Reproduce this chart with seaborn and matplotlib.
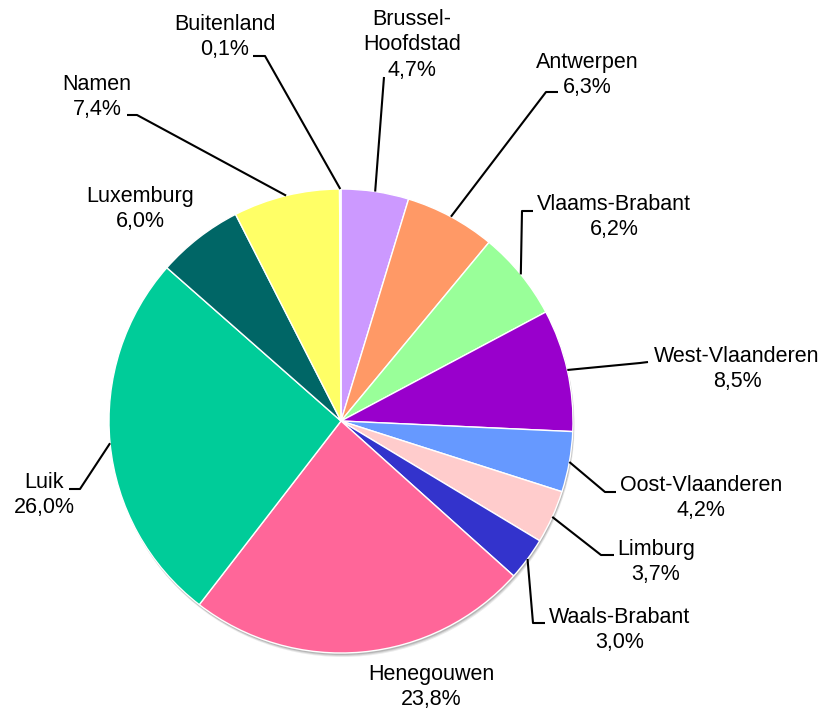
import matplotlib
matplotlib.use("Agg")
import matplotlib.pyplot as plt
import seaborn as sns
import numpy as np
from matplotlib.patches import Circle

regions = ["Brussel-\nHoofdstad", "Antwerpen", "Vlaams-Brabant", "West-Vlaanderen",
           "Oost-Vlaanderen", "Limburg", "Waals-Brabant", "Henegouwen", "Luik",
           "Luxemburg", "Namen", "Buitenland"]
shares = [4.7, 6.3, 6.2, 8.5, 4.2, 3.7, 3.0, 23.8, 26.0, 6.0, 7.4, 0.1]
colors = ["#CC99FF", "#FF9966", "#99FF99", "#9900CC", "#6699FF", "#FFCCCC",
          "#3333CC", "#FF6699", "#00CC99", "#006666", "#FFFF66", "#CCFFFF"]

sns.set_style("white")
plt.rcParams['font.family'] = ['Liberation Sans', 'DejaVu Sans']

W, H = 824, 711
fig = plt.figure(figsize=(W / 100, H / 100), dpi=100)
ax = fig.add_axes([0, 0, 1, 1])

cx, cy, R = 341, H - 421, 232

# soft shadow
for off, a in [(4, 0.08), (3, 0.10), (2, 0.14)]:
    ax.add_patch(Circle((cx + off * 0.4, cy - off), R, color="black", alpha=a, lw=0, zorder=0))

palette = sns.color_palette(colors)
wedges, _ = ax.pie(shares, colors=palette, startangle=90, counterclock=False,
                   center=(cx, cy), radius=R,
                   wedgeprops=dict(edgecolor="white", linewidth=1))
for w in wedges:
    w.set_zorder(2)

ax.set_xlim(0, W)
ax.set_ylim(0, H)
ax.set_aspect("equal")
ax.axis("off")

# label centres (pixels, y from top)
label_pos = [(412, 45), (587, 75), (614, 217), (737, 369), (701, 498), (656, 562),
             (620, 630), (431, 687), (44, 495), (140, 209), (97, 97), (225, 37)]
# leader line elbow and stub end (pixels, y from top); None = no line
leaders = [[(384, 77)],
           [(546, 92), (558, 92)],
           [(522, 211), (533, 211)],
           [(640, 363), (648, 362)],
           [(605, 492), (616, 492)],
           [(601, 555), (614, 555)],
           [(533, 623), (545, 623)],
           None,
           [(80, 489), (69, 489)],
           None,
           [(137, 115), (127, 115)],
           [(265, 56), (253, 56)]]

cum = np.cumsum([0] + shares[:-1])
total = sum(shares)
for i, (name, v) in enumerate(zip(regions, shares)):
    mid = (cum[i] + v / 2) / total * 2 * np.pi
    ex = cx + R * np.sin(mid)
    ey = cy + R * np.cos(mid)
    if leaders[i] is not None:
        xs = [ex] + [p[0] for p in leaders[i]]
        ys = [ey] + [H - p[1] for p in leaders[i]]
        ax.plot(xs, ys, color="black", lw=1.5, zorder=3, solid_capstyle="butt")
    lx, ly = label_pos[i]
    txt = f"{name}\n{v:.1f}".replace(".", ",") + "%"
    ax.text(lx, H - ly, txt, ha="center", va="center", fontsize=15.5,
            linespacing=1.3, color="black", zorder=4)

fig.savefig("out.png", dpi=100)
